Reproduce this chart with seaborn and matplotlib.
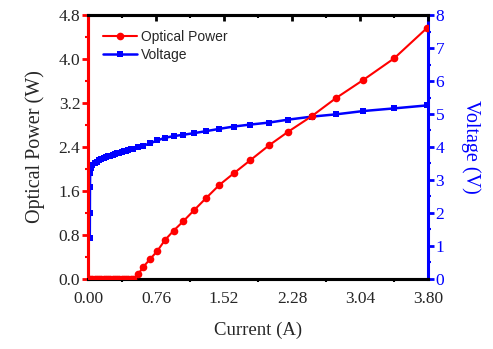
import numpy as np
import pandas as pd
import matplotlib
matplotlib.use("Agg")
import matplotlib.pyplot as plt
from matplotlib.ticker import MultipleLocator, FormatStrFormatter, FixedLocator
import seaborn as sns

# ---- data ----
current_p = [0.0, 0.025, 0.05, 0.075, 0.1, 0.125, 0.15, 0.175, 0.2, 0.225, 0.25,
             0.275, 0.3, 0.325, 0.35, 0.375, 0.4, 0.425, 0.45, 0.475, 0.5,
             0.562, 0.618, 0.693, 0.775, 0.861, 0.958, 1.065, 1.185, 1.319,
             1.468, 1.628, 1.814, 2.023, 2.239, 2.50, 2.772, 3.077, 3.42, 3.786]
power = [0.0, 0.0, 0.0, 0.0, 0.0, 0.0, 0.0, 0.0, 0.0, 0.0, 0.0,
         0.0, 0.0, 0.0, 0.0, 0.0, 0.0, 0.0, 0.0, 0.0, 0.0,
         0.09, 0.22, 0.36, 0.51, 0.71, 0.88, 1.05, 1.25, 1.47,
         1.71, 1.92, 2.16, 2.43, 2.68, 2.96, 3.29, 3.62, 4.01, 4.56]

current_v = [0.02, 0.021, 0.022, 0.024, 0.03, 0.05, 0.075, 0.1, 0.125, 0.15, 0.175,
             0.2, 0.225, 0.25, 0.275, 0.3, 0.325, 0.35, 0.375, 0.4, 0.425, 0.45,
             0.475, 0.5, 0.562, 0.618, 0.693, 0.775, 0.861, 0.958, 1.065, 1.185,
             1.319, 1.468, 1.628, 1.814, 2.023, 2.239, 2.50, 2.772, 3.077, 3.42, 3.786]
voltage = [1.24, 2.0, 2.8, 3.2, 3.35, 3.45, 3.51, 3.56, 3.60, 3.63, 3.66,
           3.69, 3.72, 3.74, 3.77, 3.79, 3.81, 3.83, 3.85, 3.87, 3.89, 3.91,
           3.93, 3.95, 3.99, 4.04, 4.11, 4.20, 4.28, 4.33, 4.37, 4.42,
           4.48, 4.55, 4.62, 4.68, 4.74, 4.83, 4.92, 4.99, 5.09, 5.17, 5.26]

x_ticks = [0.00, 0.76, 1.52, 2.28, 3.04, 3.80]
y_left_ticks = [0.0, 0.8, 1.6, 2.4, 3.2, 4.0, 4.8]
y_right_ticks = [0, 1, 2, 3, 4, 5, 6, 7, 8]

sns.set_style("white")
plt.rcParams['font.family'] = ['Liberation Serif', 'DejaVu Serif']

fig = plt.figure(figsize=(4.93, 3.49), dpi=100)
ax = fig.add_axes([0.1785, 0.2006, 0.6897, 0.7564])
ax2 = ax.twinx()

dfp = pd.DataFrame({"Current": current_p, "Power": power})
dfv = pd.DataFrame({"Current": current_v, "Voltage": voltage})

sns.lineplot(data=dfp, x="Current", y="Power", ax=ax, color="#ff0000",
             marker="o", markersize=5.5, markeredgewidth=0, linewidth=1.5,
             label="Optical Power", sort=False, zorder=3)
sns.lineplot(data=dfv, x="Current", y="Voltage", ax=ax2, color="#0000ff",
             marker="s", markersize=4.4, markeredgewidth=0, linewidth=1.8,
             label="Voltage", sort=False, zorder=3)

ax.set_xlim(0, 3.8)
ax.set_ylim(0, 4.8)
ax2.set_ylim(0, 8)

ax.xaxis.set_major_locator(FixedLocator(x_ticks))
ax.xaxis.set_major_formatter(FormatStrFormatter('%.2f'))
ax.xaxis.set_minor_locator(MultipleLocator(0.38))
ax.yaxis.set_major_locator(FixedLocator(y_left_ticks))
ax.yaxis.set_major_formatter(FormatStrFormatter('%.1f'))
ax.yaxis.set_minor_locator(MultipleLocator(0.4))
ax2.yaxis.set_major_locator(FixedLocator(y_right_ticks))
ax2.yaxis.set_minor_locator(MultipleLocator(0.5))

# spines
for sp in ['top', 'bottom']:
    ax.spines[sp].set_color('black'); ax.spines[sp].set_linewidth(2.2)
    ax2.spines[sp].set_color('black'); ax2.spines[sp].set_linewidth(2.2)
ax2.spines['left'].set_color('#ff0000'); ax2.spines['left'].set_linewidth(2.2)
ax.spines['left'].set_color('#ff0000'); ax.spines['left'].set_linewidth(2.2)
ax2.spines['right'].set_color('#0000ff'); ax2.spines['right'].set_linewidth(2.2)
ax.spines['right'].set_visible(False)

TS = 12.5
ax.tick_params(axis='x', which='major', direction='out', length=4, width=2,
               color='black', labelsize=TS, pad=4.5, top=False)
ax.tick_params(axis='x', which='minor', direction='out', length=2, width=1.5,
               color='black', bottom=True)
ax.tick_params(axis='y', which='major', direction='out', length=4, width=2,
               color='#ff0000', labelsize=TS, pad=1.5)
ax.tick_params(axis='y', which='minor', direction='out', length=2, width=1.5,
               color='#ff0000', left=True)
ax2.tick_params(axis='y', which='major', direction='out', length=4, width=2,
                color='#0000ff', labelcolor='#0000ff', labelsize=TS, pad=1.5)
ax2.tick_params(axis='y', which='minor', direction='out', length=2, width=1.5,
                color='#0000ff', right=True)

# top ticks pointing inward
sec = ax.secondary_xaxis('top')
sec.xaxis.set_major_locator(FixedLocator(x_ticks))
sec.xaxis.set_minor_locator(MultipleLocator(0.38))
sec.tick_params(which='major', direction='in', length=4, width=2, labeltop=False, color='black')
sec.tick_params(which='minor', direction='in', length=2, width=1.5, color='black')
sec.spines['top'].set_visible(False)

ax.set_xlabel("Current (A)", fontsize=13.5, labelpad=11)
ax.set_ylabel("Optical Power (W)", fontsize=14.5, labelpad=10)
ax2.set_ylabel("Voltage (V)", fontsize=14.5, color='#0000ff', rotation=270, labelpad=26)

# legend
h1, l1 = ax.get_legend_handles_labels()
h2, l2 = ax2.get_legend_handles_labels()
if ax2.get_legend() is not None:
    ax2.get_legend().remove()
ax.legend(h1 + h2, l1 + l2, loc='upper left', bbox_to_anchor=(0.012, 0.985),
          frameon=False, prop={'family': 'Liberation Sans', 'size': 10},
          handlelength=2.4, handletextpad=0.35, labelspacing=0.3, borderpad=0.3)

ax.set_zorder(ax2.get_zorder() + 1)
ax.patch.set_visible(False)

fig.savefig("out.png", dpi=100)
